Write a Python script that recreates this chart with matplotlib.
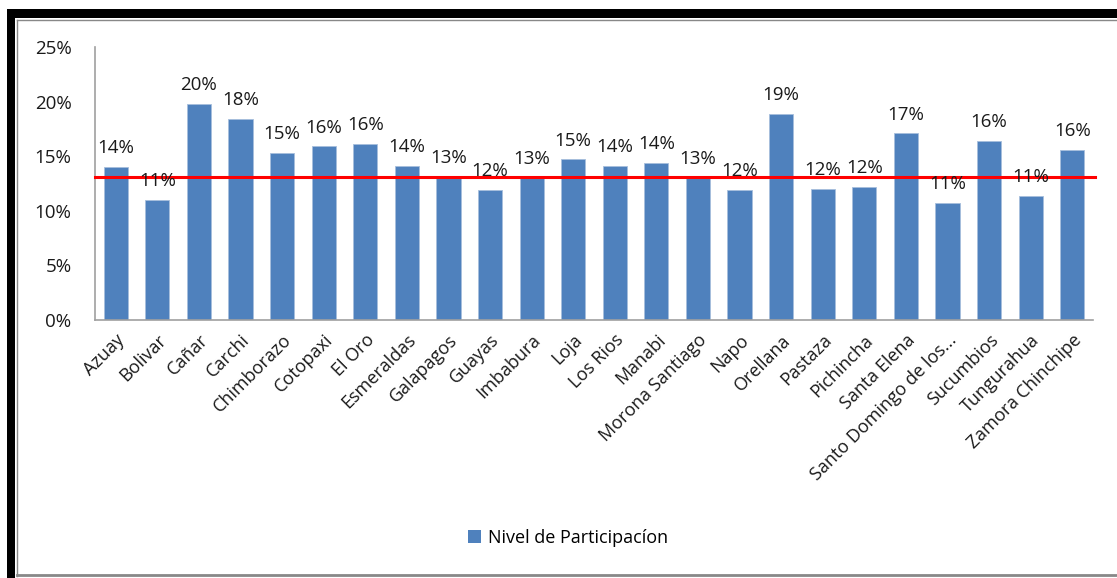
import matplotlib
matplotlib.use("Agg")
import matplotlib.pyplot as plt
from matplotlib.patches import Rectangle, Patch
from matplotlib.lines import Line2D
import numpy as np

categories = ["Azuay", "Bolivar", "Cañar", "Carchi", "Chimborazo", "Cotopaxi", "El Oro",
              "Esmeraldas", "Galapagos", "Guayas", "Imbabura", "Loja", "Los Rios", "Manabi",
              "Morona Santiago", "Napo", "Orellana", "Pastaza", "Pichincha", "Santa Elena",
              "Santo Domingo de los...", "Sucumbios", "Tungurahua", "Zamora Chinchipe"]
values = [0.140, 0.110, 0.198, 0.184, 0.153, 0.159, 0.161,
          0.141, 0.131, 0.119, 0.130, 0.147, 0.141, 0.144,
          0.130, 0.119, 0.189, 0.120, 0.122, 0.171,
          0.107, 0.164, 0.114, 0.156]
average = 0.131
yticks = [0, 0.05, 0.10, 0.15, 0.20, 0.25]
legend_label = "Nivel de Participacíon"

plt.rcParams['font.family'] = ['Open Sans', 'DejaVu Sans']
W, H = 1117, 578
fig = plt.figure(figsize=(W / 100, H / 100), dpi=100)

# outer frame
fig.patches.append(Rectangle((7 / W, 0), 8 / W, (H - 9) / H, transform=fig.transFigure,
                             facecolor='black', edgecolor='none'))
fig.patches.append(Rectangle((7 / W, (H - 18) / H), (W - 7) / W, 9 / H, transform=fig.transFigure,
                             facecolor='black', edgecolor='none'))
fig.add_artist(Line2D([17 / W, 17 / W], [2 / H, (H - 20) / H], transform=fig.transFigure,
                      color='#888888', lw=1))
fig.add_artist(Line2D([17 / W, 1], [(H - 20) / H, (H - 20) / H], transform=fig.transFigure,
                      color='#888888', lw=1))
fig.add_artist(Line2D([17 / W, 1], [3 / H, 3 / H], transform=fig.transFigure,
                      color='#888888', lw=2))

ax = fig.add_axes([95 / W, (H - 320) / H, (1093 - 95) / W, (320 - 47) / H])
x = np.arange(len(categories))
bars = ax.bar(x, values, width=0.58, color='#4F81BD', edgecolor='#A7BEDC', linewidth=0.6,
              label=legend_label, zorder=2)
ax.axhline(average, color='#FF0000', lw=2.2, zorder=3, xmin=0, xmax=1.002, clip_on=False)

for xi, v in zip(x, values):
    ax.annotate(f"{v * 100:.0f}%", (xi, v), xytext=(0, 7), textcoords='offset points',
                ha='center', va='bottom', fontsize=13.5, color='#1a1a1a', zorder=4)

ax.set_xlim(-0.5, len(categories) - 0.5)
ax.set_ylim(0, 0.25)
ax.set_yticks(yticks)
ax.set_yticklabels([f"{int(round(t * 100))}%" for t in yticks], fontsize=13.5, color='#1a1a1a')
ax.set_xticks(x)
ax.set_xticklabels(categories, rotation=45, ha='right', rotation_mode='anchor',
                   fontsize=13, color='#1a1a1a')
ax.tick_params(axis='both', length=0, pad=8)
ax.tick_params(axis='y', pad=17)
for s in ['top', 'right']:
    ax.spines[s].set_visible(False)
for s in ['left', 'bottom']:
    ax.spines[s].set_color('#A0A0A0')
    ax.spines[s].set_linewidth(1.2)

fig.legend(handles=[Patch(facecolor='#4F81BD', label=legend_label)], loc='center',
           bbox_to_anchor=(568 / W, (H - 538) / H), frameon=False, fontsize=13,
           handlelength=0.75, handleheight=0.75, handletextpad=0.4)

fig.savefig("out.png", dpi=100, facecolor='white')
